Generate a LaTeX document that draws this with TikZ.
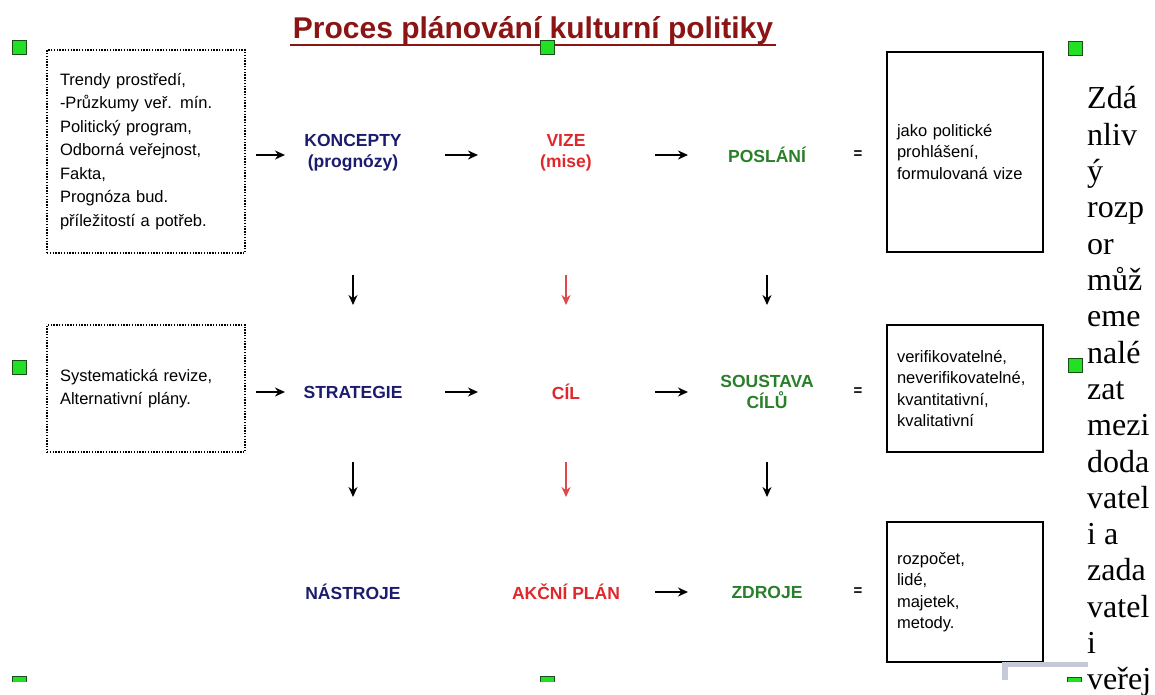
\documentclass[tikz,border=0pt]{standalone}
\usepackage{fontspec}
\setmainfont{Liberation Sans}
\newfontfamily\pageserif{Liberation Serif}
\usetikzlibrary{arrows.meta,calc}
\definecolor{titlered}{HTML}{8B1414}
\definecolor{navy}{HTML}{1C1C6E}
\definecolor{vred}{HTML}{E0282C}
\definecolor{lred}{HTML}{E04848}
\definecolor{dgreen}{HTML}{2A7F2A}
\definecolor{bullet}{HTML}{22E022}
\definecolor{bulletrim}{HTML}{1B4D1B}
\definecolor{rule}{HTML}{C6CAD8}
\tikzset{
  titletext/.style={inner sep=0pt, text=titlered, font=\bfseries\fontsize{30}{34}\selectfont},
  concept/.style={align=center, font=\bfseries\fontsize{17.5}{21}\selectfont},
  srcbox/.style={draw=black, line width=1.2pt, dash pattern=on 1.4pt off 1.4pt,
    minimum width=198pt, text width=172pt, inner xsep=13pt, align=left,
    font=\fontsize{16.5}{23.5}\selectfont},
  outbox/.style={draw=black, line width=2.5pt, minimum width=156pt,
    text width=136pt, inner xsep=10pt, align=left,
    font=\fontsize{16.5}{21.5}\selectfont},
  eqsign/.style={font=\bfseries\fontsize{15}{16}\selectfont},
  harrow/.style={-{Stealth[length=10pt,width=9pt]}, line width=1.6pt},
  varrow/.style={-{Stealth[length=10pt,width=9pt]}, line width=1.4pt},
  sq/.style={rectangle, fill=bullet, draw=bulletrim, line width=1pt,
    minimum size=14pt, inner sep=0pt},
  pagetext/.style={inner sep=0pt, font=\pageserif\fontsize{32}{36}\selectfont}
}

\begin{document}
\begin{tikzpicture}[x=1pt, y=-1pt]
  \fill[white] (0,0) rectangle (1155,695);
  \useasboundingbox (0,0) rectangle (1155,695);

  % title
  \node[titletext] (title) at (533,31) {Proces plánování kulturní politiky};
  \draw[titlered, line width=2pt] ($(title.base west)+(-3,6)$) -- ($(title.base east)+(3,6)$);

  % bullets
  \node[sq] (sqa) at (19.5,47.5) {};
  \node[sq] (sqb) at (547.5,48) {};
  \node[sq] (sqc) at (1075.5,48.5) {};
  \node[sq] (sqd) at (19.5,367) {};
  \node[sq] (sqe) at (1075,365) {};
  \begin{scope}
    \clip (0,670) rectangle (1155,681);
    \node[sq] (sqf) at (19.5,683) {};
    \node[sq] (sqg) at (547.5,683) {};
    \node[sq] (sqh) at (1074,684) {};
  \end{scope}

  % inputs
  \node[srcbox, minimum height=203pt] (trendy) at (146,151.5)
    {Trendy prostředí,\\-Průzkumy veř. mín.\\Politický program,\\Odborná veřejnost,\\Fakta,\\Prognóza bud.\\příležitostí a potřeb.};
  \node[srcbox, minimum height=127pt] (revize) at (146,388.5)
    {Systematická revize,\\Alternativní plány.};

  % columns
  \node[concept, text=navy]   (koncepty)  at (353,153) {KONCEPTY\\(prognózy)};
  \node[concept, text=vred]   (vize)      at (566,153) {VIZE\\(mise)};
  \node[concept, text=dgreen] (poslani)   at (767,155) {POSLÁNÍ};
  \node[concept, text=navy]   (strategie) at (353,392) {STRATEGIE};
  \node[concept, text=vred]   (cil)       at (566,392) {CÍL};
  \node[concept, text=dgreen] (soustava)  at (767,392) {SOUSTAVA\\CÍLŮ};
  \node[concept, text=navy]   (nastroje)  at (353,592) {NÁSTROJE};
  \node[concept, text=vred]   (akcni)     at (566,592) {AKČNÍ PLÁN};
  \node[concept, text=dgreen] (zdroje)    at (767,592) {ZDROJE};

  \node[eqsign] (eqa) at (858,155) {=};
  \node[eqsign] (eqb) at (858,392) {=};
  \node[eqsign] (eqc) at (858,592) {=};

  % outputs
  \node[outbox, minimum height=200pt] (prohlaseni) at (965,152)
    {jako politické\\prohlášení,\\formulovaná vize};
  \node[outbox, minimum height=127pt] (typy) at (965,388.5)
    {verifikovatelné,\\neverifikovatelné,\\kvantitativní,\\kvalitativní};
  \node[outbox, minimum height=140pt] (prostredky) at (965,592)
    {rozpočet,\\lidé,\\majetek,\\metody.};

  % horizontal arrows
  \draw[harrow, shorten <=10pt, shorten >=68pt] (trendy.east |- poslani.center) -- (koncepty.center |- poslani.center);
  \draw[harrow, shorten <=10pt, shorten >=68pt] (revize.east |- strategie.center) -- (strategie.center);
  \draw[harrow, shorten <=92pt, shorten >=88pt] (koncepty.center |- poslani.center) -- (vize.center |- poslani.center);
  \draw[harrow, shorten <=92pt, shorten >=88pt] (strategie.center) -- (cil.center);
  \draw[harrow, shorten <=89pt, shorten >=79pt] (vize.center |- poslani.center) -- (poslani.center);
  \foreach \a/\b in {cil/soustava, akcni/zdroje}
    \draw[harrow, shorten <=89pt, shorten >=79pt] (\a.center) -- (\b.center);

  % vertical arrows
  \draw[varrow, shorten <=120pt, shorten >=87pt] (koncepty.center |- poslani.center) -- (strategie.center);
  \draw[varrow, lred, shorten <=120pt, shorten >=87pt] (vize.center |- poslani.center) -- (cil.center);
  \draw[varrow, shorten <=120pt, shorten >=87pt] (poslani.center) -- (soustava.center);
  \draw[varrow, shorten <=70pt, shorten >=95pt] (strategie.center) -- (nastroje.center);
  \draw[varrow, lred, shorten <=70pt, shorten >=95pt] (cil.center) -- (akcni.center);
  \draw[varrow, shorten <=70pt, shorten >=95pt] (soustava.center) -- (zdroje.center);

  % page text column
  \foreach \w [count=\i from 0] in {Zdá,nliv,ý,rozp,or,můž,eme,nalé,zat,mezi,doda,vatel,i a,zada,vatel,i,veřej}
    \node[pagetext, anchor=base west] (w\i) at (1087,{109+\i*36.3}) {\w};

  \fill[rule] (1002,662) rectangle (1088,667);
  \fill[rule] (1002,662) rectangle (1008,680);
\end{tikzpicture}
\end{document}
